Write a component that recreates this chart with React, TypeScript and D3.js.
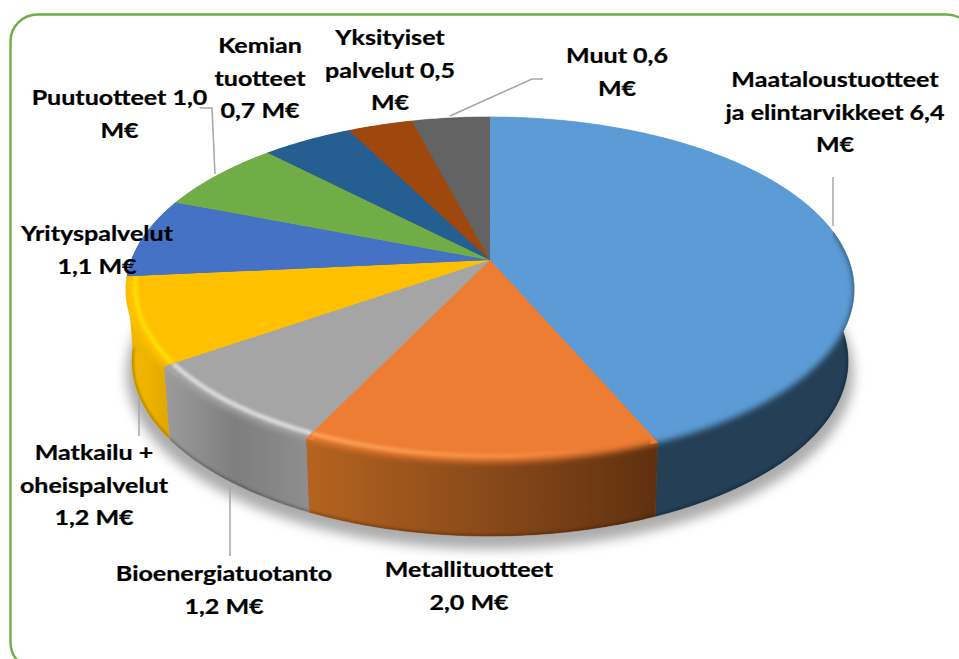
import React from "react";
import * as d3 from "d3";

const names = ["Maataloustuotteet ja elintarvikkeet","Metallituotteet","Bioenergiatuotanto","Matkailu + oheispalvelut","Yrityspalvelut","Puutuotteet","Kemian tuotteet","Yksityiset palvelut","Muut"];
const values = [6.4, 2.0, 1.2, 1.2, 1.1, 1.0, 0.7, 0.5, 0.6];
const faceColors = ["#5b9bd5","#ed7d31","#a5a5a5","#ffc000","#4472c4","#70ad47","#255e91","#9e480e","#636363"];
const wallStops: string[][] = [
  ["#243f56","#243f56","#243f56"],
  ["#b5641f","#8a4a1a","#5f300f"],
  ["#9c9c9c","#7e7e7e","#8e8e8e"],
  ["#f2b800","#edb300","#dfa800"],
  [],[],[],[],[],
];
const ridgeColors = ["","#ffa862","#e2e2e2","#ffdf00","","","","",""];
const ridgeOpacity = [0,0.85,0.9,1,0,0,0,0,0];

const labels = [
  { x: 835, y: 87, lines: ["Maataloustuotteet","ja elintarvikkeet 6,4","M€"] },
  { x: 469, y: 577, lines: ["Metallituotteet","2,0 M€"] },
  { x: 224, y: 581, lines: ["Bioenergiatuotanto","1,2 M€"] },
  { x: 94, y: 460, lines: ["Matkailu +","oheispalvelut","1,2 M€"] },
  { x: 97, y: 241, lines: ["Yrityspalvelut","1,1 M€"] },
  { x: 119.5, y: 105, lines: ["Puutuotteet 1,0","M€"] },
  { x: 260, y: 53, lines: ["Kemian","tuotteet","0,7 M€"] },
  { x: 390, y: 45, lines: ["Yksityiset","palvelut 0,5","M€"] },
  { x: 617, y: 63, lines: ["Muut 0,6","M€"] },
];
const leaders: [number, number][][] = [
  [[833,177],[833,226]],
  [[200,108],[212,108],[215,174]],
  [[543,79],[532,79],[450,116]],
  [[139,398],[139,436]],
  [[230,487],[230,556]],
];

const K = 0.171;
const CX = 490;
const TOP = { cy: 260, A: 167.5, B: 358.6 };
const BOT = { cy: 331, A: 170, B: 352.8 };
type Lvl = typeof TOP;
const proj = (a: number, lvl: Lvl, r = 1): [number, number] => {
  const u = Math.sin(a) * r, v = -Math.cos(a) * r;
  const w = 1 - K * v;
  return [CX + (lvl.B * u) / w, lvl.cy + (lvl.A * v) / w];
};
const arcPts = (a0: number, a1: number, lvl: Lvl, r = 1) => {
  const n = Math.max(2, Math.ceil(Math.abs(a1 - a0) / 0.01));
  return d3.range(n + 1).map((i) => proj(a0 + ((a1 - a0) * i) / n, lvl, r));
};
const line = d3.line<[number, number]>().x((d) => d[0]).y((d) => d[1]);
const closed = (p: [number, number][]) => line(p) + "Z";

const arcs = d3.pie<number>().sort(null).startAngle(0).endAngle(2 * Math.PI)(values);
const WALL0 = (80 * Math.PI) / 180;
const WALL1 = (264.5 * Math.PI) / 180;
const OVER = 0.06;

export default function App() {
  const slices = arcs.map((s, i) => {
    const face = closed([[CX, TOP.cy], ...arcPts(s.startAngle, s.endAngle, TOP)]);
    const faceWide = closed([[CX, TOP.cy], ...arcPts(s.startAngle - OVER, s.endAngle + OVER, TOP)]);
    const a0 = Math.max(s.startAngle, WALL0), a1 = Math.min(s.endAngle, WALL1);
    const hasWall = a1 > a0;
    // the wall runs a little under the face so that the blurred rim fades into it
    const wall = hasWall ? closed([...arcPts(a0, a1, TOP, 0.96), ...arcPts(a1, a0, BOT)]) : "";
    const outer = hasWall ? closed([...arcPts(a0, a1, TOP), ...arcPts(a1, a0, BOT)]) : "";
    const xs = hasWall ? [...arcPts(a0, a1, TOP), ...arcPts(a0, a1, BOT)].map((d) => d[0]) : [0, 1];
    return { i, face, faceWide, wall, outer, hasWall, a0, a1, x0: d3.min(xs)!, x1: d3.max(xs)! };
  });
  const shadow = closed(arcPts(0, 2 * Math.PI, { cy: BOT.cy + 12, A: BOT.A * 1.005, B: BOT.B * 1.015 }));
  return (
    <svg width={959} height={659} style={{ position: "absolute", left: 0, top: 0, display: "block", background: "#fff" }}
      fontFamily="Lato, 'Open Sans', sans-serif">
      <defs>
        <filter id="faceBlur" filterUnits="userSpaceOnUse" x="0" y="0" width="959" height="659">
          <feGaussianBlur stdDeviation="3.2" />
        </filter>
        <filter id="ridgeBlur" filterUnits="userSpaceOnUse" x="0" y="0" width="959" height="659">
          <feGaussianBlur stdDeviation="1.8" />
        </filter>
        {slices.filter((s) => s.hasWall).map((s) => (
          <linearGradient key={s.i} id={`wall${s.i}`} gradientUnits="userSpaceOnUse" x1={s.x0} x2={s.x1} y1={0} y2={0}>
            {wallStops[s.i].map((c, j) => <stop key={j} offset={j / 2} stopColor={c} />)}
          </linearGradient>
        ))}
        <linearGradient id="ridge1" gradientUnits="userSpaceOnUse" x1={308} x2={600} y1={0} y2={0}>
          <stop offset={0} stopColor={ridgeColors[1]} stopOpacity={ridgeOpacity[1]} />
          <stop offset={0.7} stopColor={ridgeColors[1]} stopOpacity={0.35} />
          <stop offset={1} stopColor={ridgeColors[1]} stopOpacity={0} />
        </linearGradient>
        {slices.map((s) => (
          <clipPath key={s.i} id={`clip${s.i}`}>
            <path d={s.face} />
            {s.hasWall && <path d={s.outer} />}
          </clipPath>
        ))}
      </defs>

      <rect x={10.5} y={14.5} width={963} height={655} rx={27} ry={27} fill="#fff" stroke="#70ad47" strokeWidth={2.4} />

      <path d={shadow} fill="#acacac" style={{ filter: "blur(6px)" }} />

      {slices.map((s) => (
        <g key={`b${s.i}`}>
          {s.hasWall && <path d={s.outer} fill={wallStops[s.i][1]} stroke={wallStops[s.i][1]} strokeWidth={0.6} />}
        </g>
      ))}
      {slices.map((s) => (
        <path key={`f${s.i}`} d={s.face} fill={faceColors[s.i]} stroke={faceColors[s.i]} strokeWidth={0.6} />
      ))}

      {slices.map((s) => (
        <g key={s.i} clipPath={`url(#clip${s.i})`}>
          <path d={s.face} fill={faceColors[s.i]} />
          {s.hasWall && <path d={s.outer} fill={`url(#wall${s.i})`} />}
          {s.hasWall && <path d={s.wall} fill={`url(#wall${s.i})`} />}
          {s.hasWall && <path d={line(arcPts(s.a0, s.a1, BOT))!} fill="none" stroke="#000" strokeOpacity={0.3} strokeWidth={3} filter="url(#ridgeBlur)" />}
          <path d={s.faceWide} fill={faceColors[s.i]} filter={s.hasWall ? "url(#faceBlur)" : undefined} />
          {s.hasWall && ridgeOpacity[s.i] > 0 && (
            <path d={line(arcPts(s.a0, s.a1, TOP, 0.975))!} fill="none"
              stroke={s.i === 1 ? "url(#ridge1)" : ridgeColors[s.i]} strokeOpacity={s.i === 1 ? 1 : ridgeOpacity[s.i]}
              strokeWidth={4.5} filter="url(#ridgeBlur)" />
          )}
        </g>
      ))}

      {leaders.map((p, i) => (
        <path key={i} d={line(p)!} fill="none" stroke="#a6a6a6" strokeWidth={1.5} />
      ))}

      {labels.map((l, i) => (
        <g key={i}>
          {l.lines.map((t, j) => (
            <text key={j} textAnchor="middle" fontSize={21.5} fontWeight={700} fill="#000" stroke="#000" strokeWidth={0.25}
              transform={`translate(${l.x},${l.y + j * 32.7}) scale(1.165,1)`}>{t}</text>
          ))}
        </g>
      ))}
    </svg>
  );
}
